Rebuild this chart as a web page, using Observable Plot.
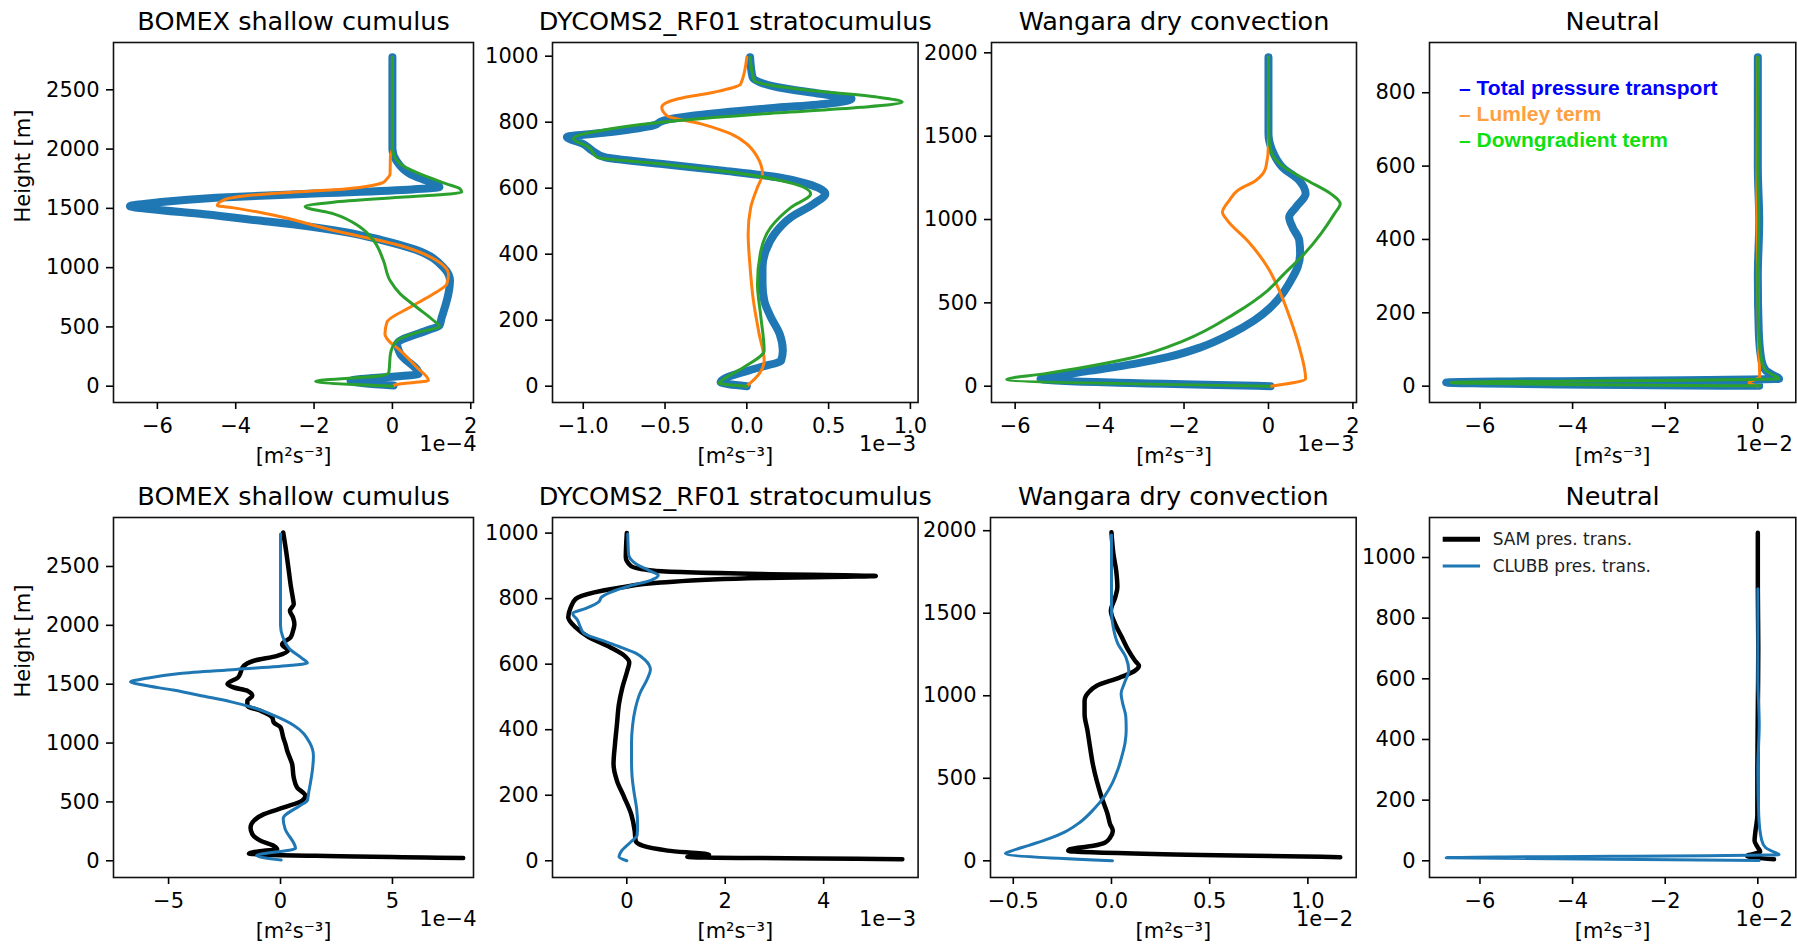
<!DOCTYPE html>
<html><head><meta charset="utf-8">
<script src="https://cdn.jsdelivr.net/npm/d3@7"></script>
<script src="https://cdn.jsdelivr.net/npm/@observablehq/plot@0.6"></script>
<style>
html,body{margin:0;padding:0;background:#fff;overflow:hidden;}
#root{position:relative;width:1797px;height:945px;background:#fff;}
</style></head><body><div id="root"></div>
<script>
// ---------- DATA: [value, height m]; values in the units of the panel's axis multiplier ----------
const titles = ["BOMEX shallow cumulus", "DYCOMS2_RF01 stratocumulus", "Wangara dry convection", "Neutral"];
const topExponents = ["1e\u22124", "1e\u22123", "1e\u22123", "1e\u22122"];
const bottomExponents = ["1e\u22124", "1e\u22123", "1e\u22122", "1e\u22122"];
// factor converting CLUBB (top-panel units) into bottom-panel units
const bottomFactor = [1, 1, 0.1, 1];

// BOMEX (x 1e-4)
const bomexTotal = [[0,2775],[0,2000],[0.1,1903],[0.45,1791],[0.96,1720],[1.2,1680],[0.5,1660],[-2.0,1625],[-4.5,1590],[-6.0,1550],[-6.7,1518],[-6.2,1495],[-4.8,1450],[-3.4,1397],[-2.2,1350],[-1.2,1300],[-0.3,1235],[0.6,1150],[1.3,1004],[1.47,891],[1.43,779],[1.34,666],[1.26,582],[1.2,512],[0.88,470],[0.12,358],[0.2,273],[0.67,105],[-1.07,45],[0.03,6]];
const bomexLumley = [[0,2775],[0,2000],[-0.05,1950],[-0.06,1790],[-0.15,1745],[-0.23,1720],[-1.5,1656],[-3.2,1622],[-4.3,1572],[-4.47,1524],[-4.05,1504],[-3.2,1454],[-1.5,1313],[0.2,1187],[1.13,1060],[1.43,947],[1.39,863],[1.05,779],[0.45,666],[-0.14,540],[-0.19,441],[-0.1,385],[0.2,301],[0.62,160],[0.92,48],[0.1,14],[0.03,4]];
const bomexDown = [[0,2775],[0,2000],[0.2,1875],[0.7,1791],[1.38,1707],[1.73,1664],[1.77,1636],[0.2,1594],[-1.5,1552],[-2.23,1515],[-1.5,1454],[-0.82,1341],[-0.48,1229],[-0.23,1060],[-0.06,891],[0.2,779],[0.62,666],[1.05,554],[1.2,505],[0.6,450],[0.12,385],[-0.05,273],[-0.09,118],[-0.26,90],[-1.96,42],[0,0]];
const bomexSAM = [[0.12,2789],[0.27,2605],[0.37,2463],[0.47,2322],[0.56,2222],[0.59,2180],[0.42,2123],[0.56,2067],[0.62,2010],[0.56,1954],[0.45,1897],[0.07,1840],[0.33,1784],[-0.15,1741],[-1.19,1699],[-1.7,1642],[-1.78,1600],[-1.9,1557],[-2.37,1501],[-2.08,1472],[-1.48,1444],[-1.26,1401],[-1.48,1359],[-1.48,1317],[-0.89,1274],[-0.37,1217],[-0.3,1175],[0,1133],[0.12,1048],[0.22,991],[0.3,934],[0.52,821],[0.59,708],[0.74,623],[1.11,552],[0.96,510],[0.15,453],[-0.74,396],[-1.19,340],[-1.34,283],[-1.26,226],[-0.89,170],[-0.3,127],[-0.15,99],[-0.74,85],[-1.41,62],[8.16,23]];

// DYCOMS2_RF01 (x 1e-3)
const dycomsTotal = [[0.02,997],[0.035,936],[0.19,906],[0.45,886],[0.64,871],[0.49,856],[0.086,840],[-0.32,820],[-0.51,805],[-0.57,790],[-0.83,770],[-1.1,755],[-1.0,734],[-0.945,714],[-0.87,694],[-0.53,674],[-0.16,654],[0.19,633],[0.37,613],[0.48,583],[0.41,553],[0.27,512],[0.17,462],[0.116,411],[0.096,361],[0.096,310],[0.106,260],[0.147,209],[0.2,159],[0.22,108],[0.21,78],[0.086,58],[-0.12,27],[-0.16,12],[0,0]];
const dycomsLumley = [[0,997],[-0.037,916],[-0.2,891],[-0.42,871],[-0.52,845],[-0.49,820],[-0.28,795],[-0.1,765],[0,734],[0.065,694],[0.096,643],[0.065,603],[0.024,542],[0.008,462],[0.02,361],[0.04,260],[0.075,159],[0.106,78],[0.075,37],[0,0]];
const dycomsDown = [[0.02,997],[0.045,926],[0.39,896],[0.8,876],[0.95,861],[0.70,845],[0.086,825],[-0.42,805],[-0.83,780],[-1.06,750],[-0.965,724],[-0.915,694],[-0.53,674],[-0.016,643],[0.29,613],[0.39,583],[0.27,542],[0.147,482],[0.086,411],[0.065,310],[0.086,209],[0.106,108],[-0.016,58],[-0.14,22],[-0.17,9],[0,0]];
const dycomsSAM = [[0,1000],[-0.02,926],[0.08,900],[0.56,885],[2.73,875],[5.06,869],[2.73,863],[0.69,849],[-0.12,834],[-0.66,819],[-1.04,799],[-1.14,773],[-1.19,743],[-1.04,712],[-0.77,682],[-0.33,651],[-0.05,626],[0.05,605],[0.01,580],[-0.09,529],[-0.16,478],[-0.2,417],[-0.24,356],[-0.27,295],[-0.2,244],[-0.05,193],[0.09,142],[0.16,92],[0.18,61],[0.32,46],[0.83,31],[1.67,18],[1.23,12],[5.6,5]];

// Wangara (top x 1e-3, bottom x 1e-2)
const wangaraTotal = [[0,1974],[0,1514],[0.09,1414],[0.33,1314],[0.73,1234],[0.88,1154],[0.65,1074],[0.49,1014],[0.57,954],[0.73,874],[0.75,794],[0.69,714],[0.53,634],[0.33,554],[0.055,474],[-0.34,394],[-0.89,314],[-1.6,234],[-2.39,174],[-3.18,134],[-4.2,94],[-5.08,60],[-5.4,44],[0.05,0]];
const wangaraLumley = [[0,1974],[0,1450],[-0.06,1314],[-0.3,1234],[-0.73,1174],[-0.93,1114],[-1.09,1044],[-0.97,994],[-0.5,874],[-0.02,714],[0.29,554],[0.53,394],[0.73,234],[0.88,44],[0.05,0]];
const wangaraDown = [[0,1974],[0.01,1500],[0.055,1414],[0.37,1314],[0.92,1234],[1.48,1154],[1.7,1094],[1.56,1034],[1.24,914],[0.85,794],[0.37,674],[-0.02,574],[-0.81,434],[-2.0,274],[-3.18,174],[-4.37,114],[-5.32,74],[-6.2,40],[0.02,0]];
const wangaraSAM = [[0,1990],[0.01,1859],[0.024,1758],[0.03,1657],[0.019,1596],[-0.003,1515],[0.019,1434],[0.053,1354],[0.087,1273],[0.12,1212],[0.14,1182],[0.12,1152],[0.044,1111],[-0.075,1061],[-0.117,1020],[-0.137,970],[-0.137,889],[-0.122,788],[-0.109,687],[-0.095,586],[-0.075,485],[-0.05,384],[-0.02,283],[-0.007,222],[0.007,182],[-0.007,141],[-0.032,111],[-0.092,91],[-0.21,71],[-0.22,61],[1.165,22]];

// Neutral (x 1e-2)
const neutralTotal = [[0,897],[0,600],[0.03,450],[0,300],[0.02,150],[0.08,70],[0.17,43],[0.35,29],[0.46,20],[-6.73,10],[0.03,1]];
const neutralLumley = [[0,897],[-0.02,500],[0.0,300],[0.02,100],[0.04,25],[-0.19,9],[0,0]];
const neutralDown = [[0,897],[0,600],[0.02,450],[0,300],[0.02,150],[0.08,70],[0.17,43],[0.35,29],[0.46,20],[-6.63,10],[0.05,1]];
const neutralSAM = [[0,1082],[0,901],[0.01,700],[0,500],[-0.01,300],[-0.01,150],[-0.05,99],[-0.07,66],[0,44],[0.05,30],[-0.23,16],[0.35,5]];

// ticks
const topXTicks = [[-6,-4,-2,0,2],[-1,-0.5,0,0.5,1],[-6,-4,-2,0,2],[-6,-4,-2,0]];
const topYTicks = [[0,500,1000,1500,2000,2500],[0,200,400,600,800,1000],[0,500,1000,1500,2000],[0,200,400,600,800]];
const botXTicks = [[-5,0,5],[0,2,4],[-0.5,0,0.5,1],[-6,-4,-2,0]];
const botYTicks = [[0,500,1000,1500,2000,2500],[0,200,400,600,800,1000],[0,500,1000,1500,2000],[0,200,400,600,800,1000]];
const topXFormat = ["d",".1f","d","d"];
const botXFormat = ["d","d",".1f","d"];

const legendTop = ["\u2013 Total pressure transport", "\u2013 Lumley term", "\u2013 Downgradient term"];
const legendBottom = ["SAM pres. trans.", "CLUBB pres. trans."];

// ---------- LAYOUT ----------
const topFrames = [[113.3,42.3,473.3,402.3],[551.7,42.3,917.3,402.3],[990.7,42.3,1355.7,402.3],[1428.7,42.3,1795,402.3]];
const botFrames = [[113.3,516.7,473.3,876.7],[551.7,516.7,917.3,876.7],[990.3,516.7,1356,876.7],[1428.7,516.7,1795,876.7]];
const topXDomains = [[-7.12,2.07],[-1.188,1.047],[-6.56,2.085],[-7.09,0.82]];
const topYDomains = [[-137.5,2899],[-49.4,1041.5],[-97.8,2062],[-44.5,937]];
const botXDomains = [[-7.46,8.62],[-1.51,5.92],[-0.616,1.246],[-7.09,0.82]];
const botYDomains = [[-142,2916],[-51,1047.6],[-101,2080],[-55,1131.9]];
const expoDx = [[3,-2,-2,-3],[3,-2,-3,-3]];

const C = {blue:"#1f77b4", orange:"#ff7f0e", green:"#2ca02c"};
const root = document.getElementById("root");

function panel({frame, xDomain, yDomain, xTicks, yTicks, xFormat, title, expo, dxExpo, marks, yLabel, right}) {
  const [x0,y0,x1,y1] = frame;
  const mL = yLabel ? 115 : 92, mT = 45, mB = 70, mR = right ? 2 : 30;
  const width = x1 - x0 + mL + mR, height = y1 - y0 + mT + mB;
  const svg = Plot.plot({
    width, height, marginLeft: mL, marginRight: mR, marginTop: mT, marginBottom: mB,
    x: {domain: xDomain}, y: {domain: yDomain},
    style: `position:absolute;left:${x0 - mL}px;top:${y0 - mT}px;overflow:visible;background:none;max-width:none;font-family:'DejaVu Sans',sans-serif;font-size:21px;color:#000;`,
    marks: [
      ...marks,
      Plot.frame({stroke: "#111", strokeWidth: 1.6}),
      Plot.axisX({ticks: xTicks, tickFormat: xFormat, tickSize: 7, tickPadding: 9, label: null, strokeWidth: 1.6}),
      Plot.axisY({ticks: yTicks, tickFormat: "d", tickSize: 7, tickPadding: 7, label: null, strokeWidth: 1.6}),
      Plot.text([title], {text: d => d, frameAnchor: "top", lineAnchor: "middle", dy: -21, fontSize: 25.5}),
      Plot.text(["[m\u00B2s\u207B\u00B3]"], {text: d => d, frameAnchor: "bottom", lineAnchor: "middle", dy: 54}),
      Plot.text([expo], {text: d => d, frameAnchor: "bottom-right", lineAnchor: "middle", dx: dxExpo, dy: 42, textAnchor: "end"}),
      yLabel ? Plot.text(["Height [m]"], {text: d => d, frameAnchor: "left", lineAnchor: "middle", dx: -90, rotate: -90}) : null
    ].filter(Boolean)
  });
  root.append(svg);
}

const line = (data, stroke, strokeWidth, f = 1) =>
  Plot.line(data, {x: d => d[0] * f, y: d => d[1], stroke, strokeWidth, strokeLinejoin: "round", curve: "monotone-y"});

const topSets = [[bomexTotal,bomexLumley,bomexDown],[dycomsTotal,dycomsLumley,dycomsDown],[wangaraTotal,wangaraLumley,wangaraDown],[neutralTotal,neutralLumley,neutralDown]];
const samSets = [bomexSAM, dycomsSAM, wangaraSAM, neutralSAM];

for (let i = 0; i < 4; i++) {
  const [tot, lum, dwn] = topSets[i];
  const marks = [line(tot, C.blue, 8), line(lum, C.orange, 3), line(dwn, C.green, 3)];
  if (i === 3) {
    const cols = ["#0000ff", "#ffa040", "#10e010"];
    const dys = [46, 71.5, 97.5];
    legendTop.forEach((t, k) => marks.push(Plot.text([t], {text: d => d, frameAnchor: "top-left", lineAnchor: "middle", dx: 29.6, dy: dys[k], textAnchor: "start", fill: cols[k], fontFamily: "'Liberation Sans', Arial, sans-serif", fontWeight: "bold", fontSize: 21})));
  }
  panel({frame: topFrames[i], xDomain: topXDomains[i], yDomain: topYDomains[i], xTicks: topXTicks[i], yTicks: topYTicks[i], xFormat: topXFormat[i], title: titles[i], expo: topExponents[i], dxExpo: expoDx[0][i], marks, yLabel: i === 0, right: i === 3});

  const bmarks = [line(samSets[i], "#000", 4.5), line(tot, C.blue, 3, bottomFactor[i])];
  panel({frame: botFrames[i], xDomain: botXDomains[i], yDomain: botYDomains[i], xTicks: botXTicks[i], yTicks: botYTicks[i], xFormat: botXFormat[i], title: titles[i], expo: bottomExponents[i], dxExpo: expoDx[1][i], marks: bmarks, yLabel: i === 0, right: i === 3});
}

// bottom-right legend
const ns = "http://www.w3.org/2000/svg";
const lg = document.createElementNS(ns, "svg");
lg.setAttribute("width", 300); lg.setAttribute("height", 60);
lg.style.cssText = "position:absolute;left:1435px;top:525px;overflow:visible;font-family:'DejaVu Sans',sans-serif;font-size:17px;";
[["#000", 5, 14.3], [C.blue, 3, 41]].forEach(([c, w, y], k) => {
  const l = document.createElementNS(ns, "line");
  l.setAttribute("x1", 7.7); l.setAttribute("x2", 45); l.setAttribute("y1", y); l.setAttribute("y2", y);
  l.setAttribute("stroke", c); l.setAttribute("stroke-width", w);
  lg.append(l);
  const t = document.createElementNS(ns, "text");
  t.setAttribute("x", 57.7); t.setAttribute("y", y + 6); t.setAttribute("fill", "#222");
  t.textContent = legendBottom[k];
  lg.append(t);
});
root.append(lg);
</script></body></html>
